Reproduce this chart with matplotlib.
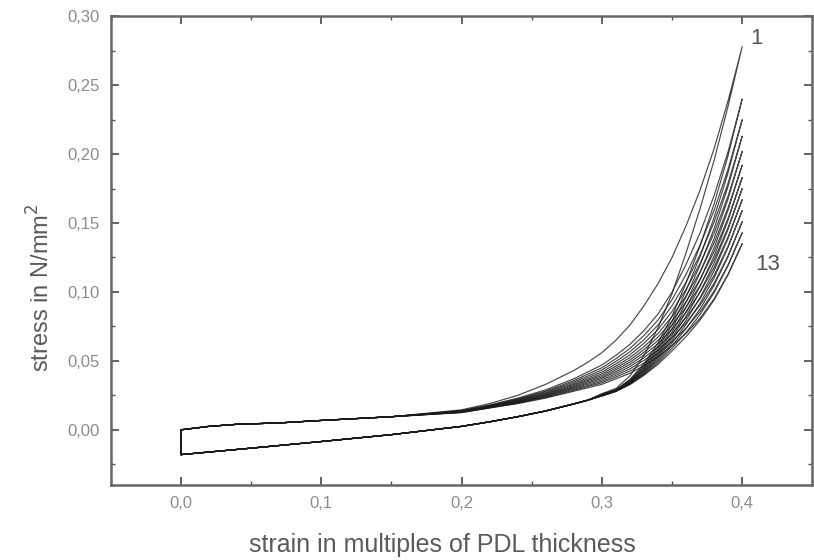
import numpy as np
import matplotlib
matplotlib.use("Agg")
import matplotlib.pyplot as plt
from matplotlib.ticker import MultipleLocator, FuncFormatter

plt.rcParams['font.family'] = ['Liberation Sans', 'DejaVu Sans']

# common start of every loading branch (strain < 0.2)
base_strain = [0.0, 0.02, 0.04, 0.07, 0.10, 0.15]
base_load = [0.0, 0.0025, 0.004, 0.005, 0.0068, 0.0095]

# loading branches, cycles 1..13
load_strain = [0.20, 0.22, 0.24, 0.26, 0.28, 0.29, 0.30, 0.31, 0.32,
               0.33, 0.34, 0.35, 0.36, 0.37, 0.38, 0.39, 0.40]
load_cycles = [
    [.0145, .0190, .0250, .0330, .0430, .0490, .0560, .0650, .0760, .0900, .1060, .1250, .1480, .1740, .2040, .2390, .278],
    [.0140, .0180, .0230, .0290, .0370, .0420, .0470, .0540, .0620, .0720, .0840, .1000, .1200, .1430, .1700, .2020, .240],
    [.0138, .0177, .0224, .0281, .0357, .0404, .0450, .0516, .0590, .0684, .0796, .0944, .1128, .1341, .1593, .1893, .225],
    [.0136, .0174, .0220, .0275, .0347, .0390, .0434, .0496, .0566, .0654, .0760, .0900, .1071, .1271, .1507, .1791, .213],
    [.0135, .0172, .0216, .0268, .0337, .0378, .0419, .0478, .0544, .0628, .0728, .0859, .1019, .1206, .1428, .1698, .202],
    [.0133, .0170, .0212, .0263, .0329, .0367, .0406, .0462, .0524, .0603, .0698, .0822, .0971, .1147, .1357, .1613, .192],
    [.0132, .0168, .0208, .0257, .0321, .0358, .0394, .0448, .0506, .0582, .0672, .0788, .0928, .1093, .1293, .1537, .183],
    [.0131, .0166, .0205, .0253, .0314, .0349, .0383, .0435, .0490, .0562, .0648, .0759, .0890, .1046, .1236, .1469, .175],
    [.0130, .0165, .0202, .0248, .0307, .0340, .0373, .0422, .0474, .0543, .0625, .0729, .0852, .0999, .1179, .1401, .167],
    [.0128, .0163, .0199, .0244, .0301, .0331, .0362, .0409, .0458, .0523, .0601, .0699, .0814, .0952, .1122, .1334, .159],
    [.0127, .0161, .0196, .0239, .0294, .0322, .0351, .0396, .0442, .0504, .0577, .0669, .0776, .0904, .1064, .1265, .151],
    [.0126, .0160, .0193, .0235, .0287, .0314, .0341, .0383, .0426, .0484, .0554, .0640, .0738, .0857, .1007, .1198, .143],
    [.0125, .0158, .0190, .0230, .0280, .0305, .0330, .0370, .0410, .0465, .0530, .0610, .0700, .0810, .0950, .1130, .135],
]

# unloading branches, from the peak back to strain 0.30
unload_strain = [0.40, 0.39, 0.38, 0.37, 0.36, 0.35, 0.34, 0.33, 0.32, 0.31, 0.30]
unload_cycles = [
    [.278, .2350, .1956, .1605, .1284, .0988, .0740, .0538, .0391, .0300, .0262],
    [.240, .1991, .1640, .1335, .1066, .0825, .0630, .0479, .0366, .0291, .0258],
    [.225, .1867, .1540, .1258, .1010, .0789, .0608, .0467, .0360, .0289, .0256],
    [.213, .1768, .1460, .1197, .0965, .0760, .0590, .0457, .0356, .0288, .0255],
    [.202, .1678, .1387, .1140, .0925, .0733, .0574, .0448, .0352, .0286, .0253],
    [.192, .1596, .1321, .1089, .0887, .0709, .0559, .0440, .0349, .0285, .0252],
    [.183, .1522, .1261, .1042, .0854, .0687, .0546, .0433, .0345, .0284, .0251],
    [.175, .1456, .1208, .1001, .0824, .0668, .0534, .0427, .0342, .0283, .0250],
    [.167, .1390, .1155, .0960, .0794, .0649, .0523, .0420, .0340, .0282, .0249],
    [.159, .1325, .1102, .0919, .0765, .0629, .0511, .0414, .0337, .0281, .0248],
    [.151, .1258, .1048, .0877, .0735, .0610, .0499, .0408, .0334, .0280, .0247],
    [.143, .1193, .0995, .0837, .0705, .0591, .0487, .0401, .0331, .0279, .0246],
    [.135, .1127, .0942, .0796, .0676, .0572, .0475, .0395, .0328, .0278, .0245],
]

# common return path of the unloading branches down to strain 0
return_strain = [0.29, 0.28, 0.26, 0.24, 0.22, 0.20, 0.15, 0.10, 0.05, 0.0]
return_stress = [0.0215, 0.0188, 0.0137, 0.0095, 0.0058, 0.0025, -0.0035, -0.0085, -0.0133, -0.018]

fig = plt.figure(figsize=(8.14, 5.6), dpi=100)
ax = fig.add_axes([0.136, 0.134, 0.862, 0.837])

for load, unload in zip(load_cycles, unload_cycles):
    x = base_strain + load_strain + unload_strain + return_strain + [0.0]
    y = base_load + load + unload + return_stress + [0.0]
    ax.plot(x, y, color='#1a1a1a', lw=0.85, alpha=0.8)

ax.set_xlim(-0.05, 0.45)
ax.set_ylim(-0.04, 0.30)

ax.xaxis.set_major_locator(MultipleLocator(0.1))
ax.xaxis.set_minor_locator(MultipleLocator(0.05))
ax.yaxis.set_major_locator(MultipleLocator(0.05))
ax.yaxis.set_minor_locator(MultipleLocator(0.025))
ax.xaxis.set_major_formatter(FuncFormatter(lambda v, p: f"{v:.1f}".replace('.', ',')))
ax.yaxis.set_major_formatter(FuncFormatter(lambda v, p: f"{v:.2f}".replace('.', ',')))

ax.tick_params(which='both', direction='in', top=True, right=True,
               color='#555555', labelcolor='#8c8c8c', labelsize=12)
ax.tick_params(which='major', length=6, width=1.3, pad=8)
ax.tick_params(which='minor', length=3, width=1.0)
for s in ax.spines.values():
    s.set_color('#666666')
    s.set_linewidth(1.8)

ax.set_xlabel('strain in multiples of PDL thickness', fontsize=18, color='#5a5a5a')
ax.set_ylabel('stress in N/mm$^2$', fontsize=17, color='#5a5a5a')
ax.xaxis.set_label_coords(0.472, -0.102)
ax.yaxis.set_label_coords(-0.08, 0.42)

ax.text(0.41, 0.284, '1', fontsize=16, color='#555555', ha='center', va='center')
ax.text(0.418, 0.12, '13', fontsize=16, color='#555555', ha='center', va='center')

fig.savefig('out.png', dpi=100)
